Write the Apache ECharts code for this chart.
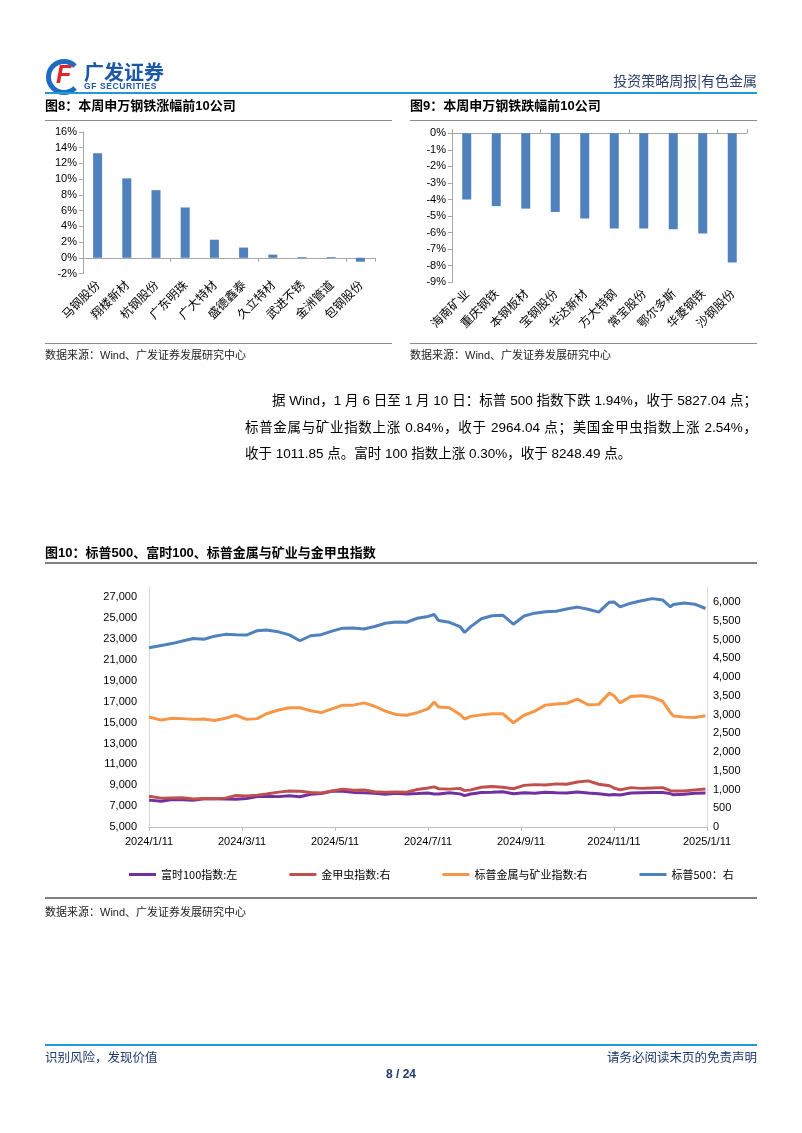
<!DOCTYPE html>
<html><head><meta charset="utf-8">
<script src="https://cdn.jsdelivr.net/npm/echarts@6/dist/echarts.min.js"></script>
<style>
html,body{margin:0;padding:0;background:#fff;}
#page{position:relative;width:802px;height:1133px;overflow:hidden;font-family:"Liberation Sans","Noto Sans CJK SC",sans-serif;color:#000;}
#chart{position:absolute;left:0;top:0;width:802px;height:1133px;}
.t{position:absolute;white-space:nowrap;}
.ln{position:absolute;}
.title{font-size:13px;font-weight:bold;}
.src{font-size:11px;color:#222;}
.para{font-size:13.5px;position:absolute;white-space:nowrap;text-align:justify;text-align-last:justify;}
</style></head>
<body><div id="page">
<div id="chart"></div>
<!-- header -->
<div class="ln" style="left:46px;top:59px;width:26px;height:26px;border:5px solid #1d6cc4;border-right-color:transparent;border-radius:50%;"></div>
<div class="t" style="left:56px;top:60px;font-size:25px;font-weight:bold;font-style:italic;color:#e0262b;font-family:'Liberation Sans';">F</div>
<div class="t" style="left:84px;top:57px;font-size:20px;font-weight:bold;color:#1d57a8;letter-spacing:0px;font-family:'Noto Sans CJK SC';">广发证券</div>
<div class="t" style="left:84px;top:81px;font-size:8.5px;font-weight:bold;color:#1d57a8;letter-spacing:0.6px;">GF SECURITIES</div>
<div class="t" style="right:45px;top:70px;font-size:14px;color:#2c3e6b;font-family:'Noto Sans CJK SC';">投资策略周报|有色金属</div>
<div class="ln" style="left:45px;top:92px;width:712px;height:2px;background:#1f9ad6;"></div>
<!-- figure titles -->
<div class="t title" style="left:45px;top:95px;">图8：本周申万钢铁涨幅前10公司</div>
<div class="ln" style="left:45px;top:120px;width:347px;height:1px;background:#8c8c8c;"></div>
<div class="t title" style="left:410px;top:95px;">图9：本周申万钢铁跌幅前10公司</div>
<div class="ln" style="left:410px;top:120px;width:347px;height:1px;background:#8c8c8c;"></div>
<div class="ln" style="left:45px;top:343px;width:347px;height:1px;background:#8c8c8c;"></div>
<div class="t src" style="left:45px;top:346px;">数据来源：Wind、广发证券发展研究中心</div>
<div class="ln" style="left:410px;top:343px;width:347px;height:1px;background:#8c8c8c;"></div>
<div class="t src" style="left:410px;top:346px;">数据来源：Wind、广发证券发展研究中心</div>
<!-- paragraph -->
<div class="para" style="left:272px;top:389px;width:485px;">据 Wind，1 月 6 日至 1 月 10 日：标普 500 指数下跌 1.94%，收于 5827.04 点；</div>
<div class="para" style="left:245px;top:416px;width:512px;">标普金属与矿业指数上涨 0.84%，收于 2964.04 点；美国金甲虫指数上涨 2.54%，</div>
<div class="t" style="left:245px;top:442px;font-size:13.5px;">收于 1011.85 点。富时 100 指数上涨 0.30%，收于 8248.49 点。</div>
<!-- figure 10 -->
<div class="t title" style="left:45px;top:542px;">图10：标普500、富时100、标普金属与矿业与金甲虫指数</div>
<div class="ln" style="left:45px;top:562px;width:712px;height:2px;background:#7f7f7f;"></div>
<div class="ln" style="left:45px;top:897px;width:712px;height:2px;background:#7f7f7f;"></div>
<div class="t src" style="left:45px;top:903px;">数据来源：Wind、广发证券发展研究中心</div>
<!-- footer -->
<div class="ln" style="left:45px;top:1044px;width:712px;height:2px;background:#1f9ad6;"></div>
<div class="t" style="left:45px;top:1047px;font-size:12.5px;color:#1f3a6e;font-family:'Noto Sans CJK SC';">识别风险，发现价值</div>
<div class="t" style="right:45px;top:1047px;font-size:12.5px;color:#1f3a6e;font-family:'Noto Sans CJK SC';">请务必阅读末页的免责声明</div>
<div class="t" style="left:0;width:802px;text-align:center;top:1067px;font-size:12px;font-weight:bold;color:#1f3a6e;">8 / 24</div>
</div>
<script>
// ---- Figure 8: top gainers ----
const upCompanies = ['马钢股份','翔楼新材','杭钢股份','广东明珠','广大特材','盛德鑫泰','久立特材','武进不锈','金洲管道','包钢股份'];
const upValues = [13.3, 10.1, 8.6, 6.4, 2.3, 1.3, 0.4, 0.1, 0.1, -0.5];
// ---- Figure 9: top losers ----
const downCompanies = ['海南矿业','重庆钢铁','本钢板材','宝钢股份','华达新材','方大特钢','常宝股份','鄂尔多斯','华菱钢铁','沙钢股份'];
const downValues = [-4.0, -4.4, -4.55, -4.75, -5.15, -5.75, -5.75, -5.8, -6.05, -7.8];
// ---- Figure 10 ----
const xTickLabels = ['2024/1/11','2024/3/11','2024/5/11','2024/7/11','2024/9/11','2024/11/11','2025/1/11'];
const dates = ['2024-01-11','2024-01-19','2024-01-26','2024-02-02','2024-02-09','2024-02-16','2024-02-23','2024-03-01','2024-03-08','2024-03-15','2024-03-22','2024-03-28','2024-04-05','2024-04-12','2024-04-19','2024-04-26','2024-05-03','2024-05-10','2024-05-17','2024-05-24','2024-05-31','2024-06-07','2024-06-14','2024-06-21','2024-06-28','2024-07-05','2024-07-12','2024-07-16','2024-07-19','2024-07-26','2024-08-02','2024-08-05','2024-08-09','2024-08-16','2024-08-23','2024-08-30','2024-09-06','2024-09-13','2024-09-20','2024-09-27','2024-10-04','2024-10-11','2024-10-18','2024-10-25','2024-11-01','2024-11-08','2024-11-11','2024-11-15','2024-11-22','2024-11-29','2024-12-06','2024-12-13','2024-12-18','2024-12-20','2024-12-27','2025-01-03','2025-01-10'];
const ftse100 = [7576,7461,7636,7615,7573,7712,7707,7683,7660,7727,7931,7953,7911,7996,7896,8140,8213,8434,8420,8318,8275,8245,8147,8238,8164,8204,8253,8168,8155,8285,8175,8008,8168,8311,8327,8377,8181,8273,8230,8320,8281,8254,8358,8249,8177,8072,8125,8064,8262,8287,8308,8300,8199,8085,8149,8224,8248];
const goldBugs = [818,770,775,780,745,760,750,770,840,830,850,880,930,960,955,920,910,960,1010,980,985,940,930,935,930,1000,1040,1070,1020,1010,1030,970,990,1060,1080,1060,1020,1110,1130,1120,1150,1140,1200,1230,1140,1100,1040,990,1050,1030,1040,1050,970,960,960,990,1012];
const spMetals = [2934,2850,2900,2890,2870,2880,2840,2900,2980,2870,2890,3020,3120,3180,3180,3100,3050,3150,3250,3250,3310,3220,3090,3000,2980,3050,3150,3330,3200,3180,3000,2880,2950,2990,3020,3020,2780,2980,3090,3250,3280,3300,3410,3260,3270,3570,3500,3310,3480,3500,3460,3350,3050,2960,2930,2920,2964];
const sp500 = [4780,4840,4891,4959,5027,5006,5089,5137,5124,5117,5234,5254,5204,5123,4967,5100,5128,5223,5303,5305,5278,5347,5432,5465,5460,5567,5615,5667,5505,5459,5346,5186,5344,5554,5635,5648,5408,5626,5703,5738,5751,5815,5864,5808,5729,5996,6001,5870,5969,6032,6090,6051,5872,5931,5971,5942,5827];
const seriesNames = ['富时100指数:左','金甲虫指数:右','标普金属与矿业指数:右','标普500：右'];

const t0 = Date.parse(dates[0]);
const dayOf = d => Math.round((Date.parse(d) - t0) / 86400000);
const pairs = arr => arr.map((v, i) => [dayOf(dates[i]), v]);

const axisGray = '#a6a6a6';
const lblStyle = {fontSize: 11, color: '#000'};
const thousands = v => String(v).replace(/\B(?=(\d{3})+(?!\d))/g, ',');

const chart = echarts.init(document.getElementById('chart'), null, {renderer: 'canvas'});
chart.setOption({
  animation: false,
  backgroundColor: 'transparent',
  textStyle: {fontFamily: 'Liberation Sans, Noto Sans CJK SC, sans-serif'},
  grid: [
    {left: 83, top: 132, width: 292, height: 141.5, containLabel: false},
    {left: 452, top: 133.3, width: 295, height: 149, containLabel: false},
    {left: 149, top: 587, width: 558, height: 240, containLabel: false}
  ],
  legend: {
    left: 124, top: 864, itemWidth: 27, itemHeight: 3, itemGap: 52, icon: 'rect',
    textStyle: {fontSize: 11, color: '#000', fontFamily: 'Noto Sans CJK SC'},
    data: seriesNames
  },
  xAxis: [
    {gridIndex: 0, type: 'category', data: upCompanies, position: 'bottom',
     axisLine: {show: false, onZero: false}, axisTick: {show: false},
     axisLabel: {rotate: 45, margin: 9, fontSize: 12, color: '#000', fontFamily: 'Noto Sans CJK SC', interval: 0}},
    {gridIndex: 0, type: 'category', data: upCompanies, position: 'top',
     axisLine: {show: true, onZero: true, lineStyle: {color: axisGray}},
     axisTick: {show: true, inside: true, length: 4, lineStyle: {color: axisGray}}, axisLabel: {show: false}},
    {gridIndex: 1, type: 'category', data: downCompanies, position: 'bottom',
     axisLine: {show: false, onZero: false}, axisTick: {show: false},
     axisLabel: {rotate: 45, margin: 9, fontSize: 12, color: '#000', fontFamily: 'Noto Sans CJK SC', interval: 0}},
    {gridIndex: 1, type: 'category', data: downCompanies, position: 'top',
     axisLine: {show: true, onZero: true, lineStyle: {color: axisGray}},
     axisTick: {show: true, inside: false, length: 4, lineStyle: {color: axisGray}}, axisLabel: {show: false}},
    {gridIndex: 2, type: 'value', min: 0, max: 366, interval: 61,
     axisLine: {show: true, lineStyle: {color: '#bfbfbf'}},
     axisTick: {show: true, length: 4, lineStyle: {color: '#bfbfbf'}},
     splitLine: {show: false},
     axisLabel: {fontSize: 11, color: '#000', margin: 9,
       formatter: v => xTickLabels[Math.round(v / 61)] || ''}}
  ],
  yAxis: [
    {gridIndex: 0, type: 'value', min: -2, max: 16, interval: 2,
     axisLine: {show: true, lineStyle: {color: axisGray}},
     axisTick: {show: true, length: 4, lineStyle: {color: axisGray}},
     splitLine: {show: false}, axisLabel: Object.assign({formatter: '{value}%', margin: 6}, lblStyle)},
    {gridIndex: 1, type: 'value', min: -9, max: 0, interval: 1,
     axisLine: {show: true, lineStyle: {color: axisGray}},
     axisTick: {show: true, length: 4, lineStyle: {color: axisGray}},
     splitLine: {show: false}, axisLabel: Object.assign({formatter: '{value}%', margin: 6}, lblStyle)},
    {gridIndex: 2, type: 'value', position: 'left', min: 5000, max: 28000, interval: 2000,
     axisLine: {show: true, lineStyle: {color: '#d9d9d9'}},
     axisTick: {show: false}, splitLine: {show: false},
     axisLabel: Object.assign({formatter: thousands, margin: 12, showMaxLabel: false}, lblStyle)},
    {gridIndex: 2, type: 'value', position: 'right', min: 0, max: 6400, interval: 500,
     axisLine: {show: true, lineStyle: {color: '#d9d9d9'}},
     axisTick: {show: false}, splitLine: {show: false},
     axisLabel: Object.assign({formatter: thousands, margin: 6, showMaxLabel: false}, lblStyle)}
  ],
  series: [
    {type: 'bar', xAxisIndex: 0, yAxisIndex: 0, data: upValues, barWidth: 9, itemStyle: {color: '#4f81bd'}},
    {type: 'bar', xAxisIndex: 2, yAxisIndex: 1, data: downValues, barWidth: 9, itemStyle: {color: '#4f81bd'}},
    {name: seriesNames[0], type: 'line', xAxisIndex: 4, yAxisIndex: 2, data: pairs(ftse100), showSymbol: false,
     lineStyle: {width: 3, color: '#7030a0'}, itemStyle: {color: '#7030a0'}},
    {name: seriesNames[1], type: 'line', xAxisIndex: 4, yAxisIndex: 3, data: pairs(goldBugs), showSymbol: false,
     lineStyle: {width: 3, color: '#c0504d'}, itemStyle: {color: '#c0504d'}},
    {name: seriesNames[2], type: 'line', xAxisIndex: 4, yAxisIndex: 3, data: pairs(spMetals), showSymbol: false,
     lineStyle: {width: 3, color: '#f79646'}, itemStyle: {color: '#f79646'}},
    {name: seriesNames[3], type: 'line', xAxisIndex: 4, yAxisIndex: 3, data: pairs(sp500), showSymbol: false,
     lineStyle: {width: 3, color: '#4f81bd'}, itemStyle: {color: '#4f81bd'}}
  ]
});
</script>
</body></html>
